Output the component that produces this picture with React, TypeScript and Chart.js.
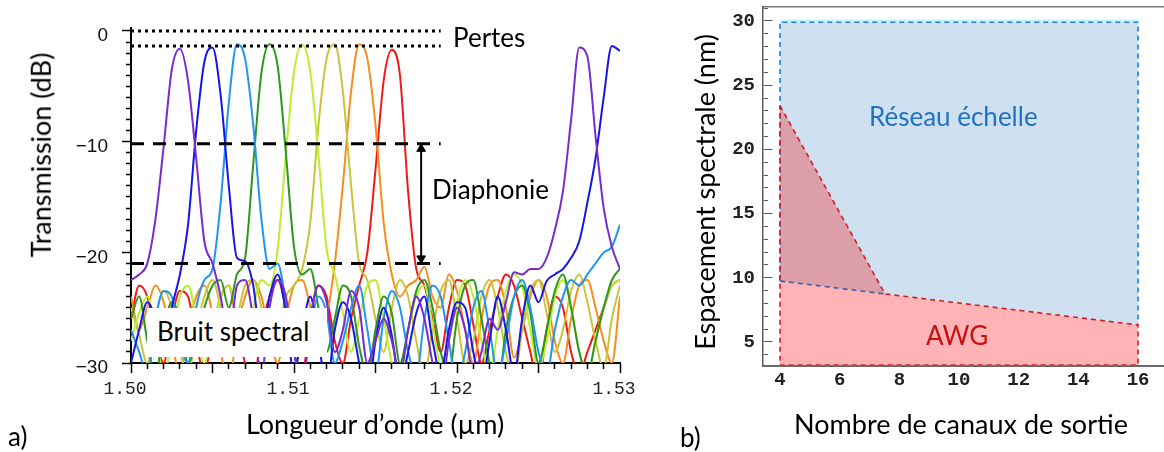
import React, { useEffect, useRef } from "react";
import { Chart, registerables } from "chart.js";

Chart.register(...registerables);

// ---------- Panel a) : spectra ----------
const wavelengths = [
  1.5, 1.5005, 1.501, 1.5015, 1.502, 1.5025, 1.503, 1.5035, 1.504, 1.5045,
  1.505, 1.5055, 1.506, 1.5065, 1.507, 1.5075, 1.508, 1.5085, 1.509, 1.5095,
  1.51, 1.5105, 1.511, 1.5115, 1.512, 1.5125, 1.513, 1.5135, 1.514, 1.5145,
  1.515, 1.5155, 1.516, 1.5165, 1.517, 1.5175, 1.518, 1.5185, 1.519, 1.5195,
  1.52, 1.5205, 1.521, 1.5215, 1.522, 1.5225, 1.523, 1.5235, 1.524, 1.5245,
  1.525, 1.5255, 1.526, 1.5265, 1.527, 1.5275, 1.528, 1.5285, 1.529, 1.5295,
  1.53,
];

const chPurple = [
  -22.5, -22, -21, -17, -10.5, -3.5, -1.6, -4.5, -11.5, -19,
  -21, -24, -28, -23, -22.5, -26, -31, -25, -22.5, -24,
  -29, -32, -26, -23, -24.5, -29, -27, -23.5, -25, -30,
  -28, -26, -28, -31, -27, -24, -26, -30, -33, -28,
  -25, -27, -31, -29, -26, -27, -24.5, -21.8, -22, -21.5,
  -21.5, -20.5, -18, -14.5, -8, -1.5, -2.3, -9.5, -16, -19.5,
  -21.5,
];
const chBlue = [
  -30, -27, -24.5, -26, -29, -25, -22, -17.5, -9, -2.8,
  -1.5, -5.8, -14, -20.5, -20.8, -23, -28, -24, -22, -25.5,
  -31, -27, -24, -28, -32, -27, -24.5, -26, -30, -33,
  -28, -25, -27.5, -32, -29, -25.5, -24, -28, -31, -27,
  -24.5, -25, -29, -32, -28, -24, -27, -31, -26, -23,
  -24.5, -22.6, -22, -21.5, -20.5, -19, -15.5, -11.5, -6, -1.35,
  -1.8,
];
const chLightBlue = [
  -27, -29, -31, -26, -23.5, -24, -28, -30, -25, -22.5,
  -21.5, -15.5, -6.5, -1.2, -2.5, -8.5, -17, -21.5, -21, -24.5,
  -29, -32, -27, -24, -25.5, -30, -28, -25, -23, -27,
  -31, -26, -23.5, -25, -29, -31, -26, -23, -24, -28,
  -32, -29, -25, -23.5, -27, -31, -28, -24, -22.5, -25,
  -29, -31, -27, -24, -22.5, -23, -22, -21, -20, -19.5,
  -17.5,
];
const chGreen = [
  -26, -24, -28, -31, -27, -24.5, -26, -30, -28, -25,
  -23, -22.5, -25, -22, -20.5, -12, -3.8, -1.2, -3.2, -11,
  -19.5, -22, -21.5, -25, -29, -26, -23, -24, -28.5, -31,
  -27, -24, -25.5, -30, -27, -23.5, -22.5, -25, -29, -31,
  -26, -23, -22.5, -26, -30, -32, -27, -24, -23, -25.5,
  -30, -27, -23.5, -22, -25, -29, -31, -28, -25, -22.5,
  -21.5,
];
const chLime = [
  -28, -25.5, -24, -27, -31, -28, -24, -23, -26, -30,
  -27, -24, -23, -26, -29, -25, -22.5, -23, -19.7, -11.2,
  -3.7, -1.2, -3.7, -11.2, -19.7, -22, -25.5, -29, -26, -23,
  -22.5, -26, -30, -32, -27, -24, -23, -26.5, -30, -28,
  -24.5, -22.5, -24, -28, -31, -27, -23.5, -22, -23, -27,
  -30.5, -28, -24, -22.5, -25, -29, -31, -28, -25, -23,
  -22.5,
];
const chOlive = [
  -25, -27.5, -30, -26, -23.5, -25, -29, -31, -27, -24,
  -22.5, -25, -28.5, -26, -23, -22.5, -25, -29, -27, -24,
  -23, -21.5, -17.3, -8.5, -2.5, -1.2, -5.5, -13.9, -21, -22.5,
  -26, -29, -25, -22.5, -24, -28, -31, -27, -23.5, -22.5,
  -26, -30, -28, -24, -22.5, -25, -29, -31.5, -27, -23.5,
  -22.5, -25.5, -29, -27, -23.5, -22, -24.5, -28, -30.5, -26,
  -23,
];
const chOrange = [
  -24, -27, -25, -23, -24.5, -28, -31, -27, -24, -23,
  -25.5, -29, -32, -27, -24, -22.5, -24, -27.5, -30, -26,
  -23, -22.5, -25, -29, -26, -21, -13.9, -5.5, -1.2, -2.5,
  -8.5, -17.3, -22, -24, -23, -22.5, -21.3, -24, -25, -22,
  -23.5, -27, -30, -26, -23, -22.5, -25, -29.5, -27, -24,
  -22.5, -24, -28, -30, -26, -23, -22.5, -25, -28, -30,
  -24,
];
const chRed = [
  -26, -23, -24, -27.5, -30, -26, -23.5, -24, -28, -31,
  -27, -24, -23, -26.5, -30, -32, -27, -24, -22.5, -25,
  -29, -31, -26, -23, -24, -28, -30, -26, -23, -20,
  -12.5, -4.5, -1.7, -4, -14.5, -21.5, -23, -26, -29, -25,
  -22.5, -23, -26.5, -30, -27, -24, -22, -23, -26, -29,
  -32, -27, -24, -25, -29, -31, -29, -27, -25, -23,
  -22.5,
];

const spectra = [
  { values: chPurple, color: "#7a2bd0" },
  { values: chBlue, color: "#1616e6" },
  { values: chLightBlue, color: "#2196f0" },
  { values: chGreen, color: "#2e961e" },
  { values: chLime, color: "#b9ef2c" },
  { values: chOlive, color: "#c9c43a" },
  { values: chOrange, color: "#f78d1f" },
  { values: chRed, color: "#f01818" },
];

const wlTicks = [
  1.5, 1.501, 1.502, 1.503, 1.504, 1.505, 1.506, 1.507, 1.508, 1.509,
  1.51, 1.511, 1.512, 1.513, 1.514, 1.515, 1.516, 1.517, 1.518, 1.519,
  1.52, 1.521, 1.522, 1.523, 1.524, 1.525, 1.526, 1.527, 1.528, 1.529, 1.53,
];
const wlMajor = [1.5, 1.505, 1.51, 1.515, 1.52, 1.525, 1.53];
const wlLabelled = [1.5, 1.51, 1.52, 1.53];

const dbTicks = [
  -30, -29, -28, -27, -26, -25, -24, -23, -22, -21,
  -20, -19, -18, -17, -16, -15, -14, -13, -12, -11,
  -10, -9, -8, -7, -6, -5, -4, -3, -2, -1, 0,
];
const dbMajor = [-30, -20, -10, 0];

const lossLevels = [0, -1.35];
const crosstalkLevels = [-10.2, -21];
const guideEnd = 1.519;
const arrowWl = 1.5178;
const arrowHeads = [-10.65, -20.55];

// ---------- Panel b) : design regions ----------
const channelTicks = [4, 6, 8, 10, 12, 14, 16];
const spacingTicks = [
  4, 5, 6, 7, 8, 9, 10, 11, 12, 13, 14, 15, 16, 17,
  18, 19, 20, 21, 22, 23, 24, 25, 26, 27, 28, 29, 30, 31,
];
const spacingLabelled = [5, 10, 15, 20, 25, 30];

const boundaryX = [4, 7.52, 16];
const boundaryY = [9.75, 8.74, 6.33];
const awgApex = 23.4;
const floorLevel = 3.2;
const ceilingLevel = 29.9;

const near = (a: number, list: number[]) =>
  list.some((v) => Math.abs(v - a) < 1e-6);

const textBase: React.CSSProperties = {
  position: "absolute",
  fontFamily: "Lato, 'Open Sans', sans-serif",
  fontSize: 26,
  lineHeight: 1.2,
  whiteSpace: "nowrap",
  color: "#000",
};
const titleBase: React.CSSProperties = { ...textBase, fontSize: 27 };

export default function App() {
  const leftRef = useRef<HTMLCanvasElement>(null);
  const rightRef = useRef<HTMLCanvasElement>(null);

  useEffect(() => {
    document.body.style.margin = "0";

    const spectrumSets = spectra.map((s) => ({
      data: wavelengths.map((x, i) => ({ x, y: s.values[i] })),
      borderColor: s.color,
      borderWidth: 2,
      pointRadius: 0,
      cubicInterpolationMode: "monotone" as const,
      fill: false,
      order: 2,
    }));
    const lossSets = lossLevels.map((v) => ({
      data: [
        { x: 1.5, y: v },
        { x: guideEnd, y: v },
      ],
      borderColor: "#000",
      borderWidth: 3,
      borderDash: [3, 4],
      pointRadius: 0,
      fill: false,
      order: 1,
    }));
    const xtalkSets = crosstalkLevels.map((v) => ({
      data: [
        { x: 1.5, y: v },
        { x: guideEnd, y: v },
      ],
      borderColor: "#000",
      borderWidth: 3,
      borderDash: [13, 9],
      pointRadius: 0,
      fill: false,
      order: 1,
    }));

    const left = new Chart(leftRef.current as HTMLCanvasElement, {
      type: "line",
      data: {
        datasets: [
          ...spectrumSets,
          ...lossSets,
          ...xtalkSets,
          {
            data: [
              { x: arrowWl, y: crosstalkLevels[0] - 0.3 },
              { x: arrowWl, y: crosstalkLevels[1] + 0.3 },
            ],
            borderColor: "#000",
            borderWidth: 2,
            pointRadius: 0,
            fill: false,
            order: 0,
          },
          {
            data: [
              { x: arrowWl, y: arrowHeads[0] },
              { x: arrowWl, y: arrowHeads[1] },
            ],
            showLine: false,
            pointStyle: "triangle",
            pointRadius: 5,
            pointRotation: [0, 180],
            backgroundColor: "#000",
            borderColor: "#000",
            borderWidth: 1,
            order: 0,
          },
        ] as any,
      },
      options: {
        responsive: false,
        animation: false,
        events: [],
        plugins: { legend: { display: false }, tooltip: { enabled: false } },
        layout: { padding: { top: 28, right: 30, left: 0, bottom: 0 } },
        scales: {
          x: {
            type: "linear",
            min: 1.5,
            max: 1.53,
            afterBuildTicks: (s: any) => {
              s.ticks = wlTicks.map((v) => ({ value: v }));
            },
            afterFit: (s: any) => {
              s.height = 89;
              s.paddingLeft = 0;
              s.paddingRight = 0;
            },
            ticks: {
              autoSkip: false,
              maxRotation: 0,
              minRotation: 0,
              padding: 5,
              labelOffset: -6,
              color: "#222",
              font: { family: "'Liberation Mono', monospace", size: 18 },
              callback: (v: any) => (near(Number(v), wlLabelled) ? Number(v).toFixed(2) : ""),
            },
            grid: {
              drawOnChartArea: false,
              tickLength: 10,
              tickColor: "#000",
              tickWidth: 1.5,
              tickBorderDash: (ctx: any) =>
                ctx.tick && !near(ctx.tick.value, wlMajor) ? [5, 100] : [],
            },
            border: { color: "#000", width: 2 },
          },
          y: {
            type: "linear",
            min: -30,
            max: 0.27,
            afterBuildTicks: (s: any) => {
              s.ticks = dbTicks.map((v) => ({ value: v }));
            },
            afterFit: (s: any) => {
              s.width = 131;
              s.paddingTop = 0;
              s.paddingBottom = 0;
            },
            ticks: {
              autoSkip: false,
              padding: 14,
              labelOffset: 5,
              color: "#111",
              font: { family: "'Liberation Sans', Arial, sans-serif", size: 19 },
              callback: (v: any) => {
                const n = Number(v);
                if (!near(n, dbMajor)) return "";
                return n < 0 ? "\u2212" + Math.abs(n) : String(n);
              },
            },
            grid: {
              drawOnChartArea: false,
              tickLength: 9,
              tickColor: "#000",
              tickWidth: 1.5,
              tickBorderDash: (ctx: any) =>
                ctx.tick && !near(ctx.tick.value, dbMajor) ? [0, 4, 5, 100] : [],
            },
            border: { color: "#000", width: 2 },
          },
        },
      } as any,
    });

    const pt = (x: number, y: number) => ({ x, y });
    const echelleFill = [
      pt(boundaryX[0], boundaryY[0]),
      pt(boundaryX[0], ceilingLevel),
      pt(boundaryX[2], ceilingLevel),
      pt(boundaryX[2], boundaryY[2]),
      pt(boundaryX[1], boundaryY[1]),
    ];
    const awgOnlyFill = [
      pt(boundaryX[0], floorLevel),
      pt(boundaryX[0], boundaryY[0]),
      pt(boundaryX[1], boundaryY[1]),
      pt(boundaryX[2], boundaryY[2]),
      pt(boundaryX[2], floorLevel),
    ];
    const overlapFill = [
      pt(boundaryX[0], boundaryY[0]),
      pt(boundaryX[0], awgApex),
      pt(boundaryX[1], boundaryY[1]),
    ];
    const echelleEdge = [
      pt(boundaryX[0], boundaryY[0]),
      pt(boundaryX[0], ceilingLevel),
      pt(boundaryX[2], ceilingLevel),
      pt(boundaryX[2], boundaryY[2]),
    ];
    const echelleLower = [pt(boundaryX[0], boundaryY[0]), pt(boundaryX[1], boundaryY[1])];
    const awgEdge = [
      pt(boundaryX[0], awgApex),
      pt(boundaryX[1], boundaryY[1]),
      pt(boundaryX[2], boundaryY[2]),
      pt(boundaryX[2], floorLevel),
      pt(boundaryX[0], floorLevel),
      pt(boundaryX[0], awgApex),
    ];
    const glow = [pt(boundaryX[0], ceilingLevel + 0.12), pt(boundaryX[2], ceilingLevel + 0.12)];

    const shape = (data: any[], color: string, order: number) => ({
      data,
      fill: "shape",
      backgroundColor: color,
      borderWidth: 0,
      borderColor: "rgba(0,0,0,0)",
      pointRadius: 0,
      order,
    });
    const edge = (data: any[], color: string, order: number, width = 1.6) => ({
      data,
      fill: false,
      borderColor: color,
      borderWidth: width,
      borderDash: [5, 4],
      pointRadius: 0,
      order,
    });

    const right = new Chart(rightRef.current as HTMLCanvasElement, {
      type: "line",
      data: {
        datasets: [
          shape(echelleFill, "#cfe0f1", 10),
          shape(awgOnlyFill, "#ffb3b6", 9),
          shape(overlapFill, "#dc9ea9", 8),
          { ...edge(glow, "#b9f3fa", 7, 2), borderDash: [] },
          edge(echelleEdge, "#1f7fd4", 6),
          edge(echelleLower, "#40609f", 5),
          edge(awgEdge, "#d11f24", 4),
        ] as any,
      },
      options: {
        responsive: false,
        animation: false,
        events: [],
        plugins: { legend: { display: false }, tooltip: { enabled: false } },
        layout: { padding: { top: 7, right: 0, left: 0, bottom: 0 } },
        scales: {
          x: {
            type: "linear",
            min: 3.43,
            max: 16.87,
            afterBuildTicks: (s: any) => {
              s.ticks = channelTicks.map((v) => ({ value: v }));
            },
            afterFit: (s: any) => {
              s.height = 86;
              s.paddingLeft = 0;
              s.paddingRight = 0;
            },
            ticks: {
              autoSkip: false,
              maxRotation: 0,
              padding: 3,
              color: "#222",
              font: { family: "'Liberation Mono', monospace", size: 19, weight: "bold" },
              callback: (v: any) => String(v),
            },
            grid: { display: false, drawTicks: false },
            border: { color: "#6a6a6a", width: 2, z: 1 },
          },
          x2: {
            type: "linear",
            position: "top",
            min: 3.43,
            max: 16.87,
            afterFit: (s: any) => {
              s.height = 0;
              s.paddingLeft = 0;
              s.paddingRight = 0;
            },
            ticks: { display: false },
            grid: { display: false, drawTicks: false },
            border: { color: "#7a7a7a", width: 1.5, z: 1 },
          },
          y: {
            type: "linear",
            min: 3.13,
            max: 31.09,
            afterBuildTicks: (s: any) => {
              s.ticks = spacingTicks.map((v) => ({ value: v }));
            },
            afterFit: (s: any) => {
              s.width = 83;
              s.paddingTop = 0;
              s.paddingBottom = 0;
            },
            ticks: {
              autoSkip: false,
              padding: 8,
              color: "#222",
              font: { family: "'Liberation Mono', monospace", size: 19, weight: "bold" },
              callback: (v: any) => (near(Number(v), spacingLabelled) ? String(v) : ""),
            },
            grid: {
              drawOnChartArea: true,
              drawTicks: false,
              color: "#5f5f5f",
              lineWidth: 1,
              z: 1,
            },
            border: {
              color: "#5a5a5a",
              width: 1.5,
              z: 1,
              dash: (ctx: any) =>
                ctx.tick ? (near(ctx.tick.value, spacingLabelled) ? [9, 3000] : [4.5, 3000]) : [],
            },
          },
        },
      } as any,
    });

    return () => {
      left.destroy();
      right.destroy();
    };
  }, []);

  return (
    <div style={{ position: "relative", width: 1164, height: 452, overflow: "hidden", background: "#fff" }}>
      <canvas ref={leftRef} width={650} height={452} style={{ position: "absolute", left: 0, top: 0 }} />
      <canvas ref={rightRef} width={484} height={452} style={{ position: "absolute", left: 680, top: 0 }} />

      {/* Panel a annotations */}
      <div style={{ ...textBase, left: 453, top: 38, transform: "translateY(-50%)" }}>Pertes</div>
      <div style={{ ...textBase, left: 432, top: 190, transform: "translateY(-50%)" }}>Diaphonie</div>
      <div
        style={{
          position: "absolute",
          left: 147,
          top: 308,
          width: 180,
          height: 49,
          background: "#fff",
        }}
      />
      <div style={{ ...textBase, left: 157, top: 332, transform: "translateY(-50%)" }}>Bruit spectral</div>
      <div
        style={{
          ...titleBase,
          left: 41,
          top: 155,
          transform: "translate(-50%, -50%) rotate(-90deg)",
        }}
      >
        Transmission (dB)
      </div>
      <div style={{ ...titleBase, left: 375, top: 424, transform: "translate(-50%, -50%)" }}>
        Longueur d’onde (µm)
      </div>
      <div style={{ ...textBase, left: 8, top: 437, transform: "translateY(-50%)" }}>a)</div>

      {/* Panel b annotations */}
      <div style={{ ...textBase, left: 869, top: 117, color: "#1f72c4", transform: "translateY(-50%)" }}>
        Réseau échelle
      </div>
      <div style={{ ...textBase, left: 926, top: 336, color: "#c81010", transform: "translateY(-50%)" }}>AWG</div>
      <div
        style={{
          ...titleBase,
          left: 705,
          top: 192,
          transform: "translate(-50%, -50%) rotate(-90deg)",
        }}
      >
        Espacement spectrale (nm)
      </div>
      <div style={{ ...titleBase, left: 961, top: 424, transform: "translate(-50%, -50%)" }}>
        Nombre de canaux de sortie
      </div>
      <div style={{ ...textBase, left: 680, top: 438, transform: "translateY(-50%)" }}>b)</div>
    </div>
  );
}
